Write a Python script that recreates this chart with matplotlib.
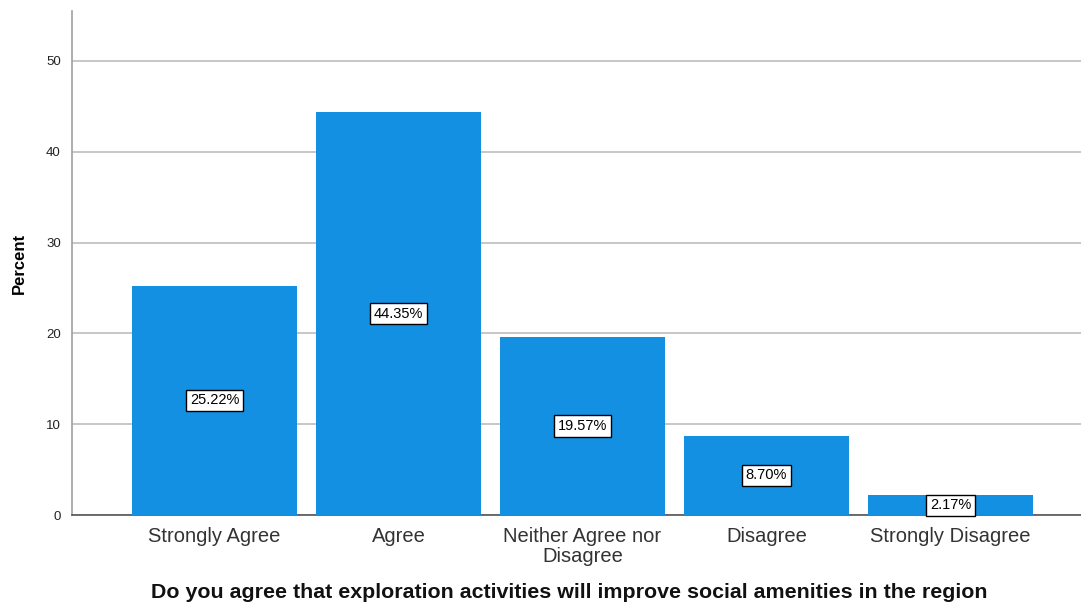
import matplotlib.pyplot as plt

categories = ["Strongly Agree", "Agree", "Neither Agree nor\nDisagree", "Disagree", "Strongly Disagree"]
percent = [25.22, 44.35, 19.57, 8.70, 2.17]
y_ticks = [0, 10, 20, 30, 40, 50]

plt.rcParams['font.family'] = ['Liberation Sans', 'DejaVu Sans']

fig = plt.figure(figsize=(10.81, 6.05), dpi=100)
ax = fig.add_axes([72 / 1081, 1 - 515 / 605, 1 - 72 / 1081, (515 - 11) / 605])

x = list(range(len(categories)))
bars = ax.bar(x, percent, width=0.897, color='#1490E3', zorder=3)

for xi, v in zip(x, percent):
    ax.text(xi, v / 2, f"{v:.2f}%", ha='center', va='center', fontsize=10.5,
            color='black', zorder=4,
            bbox=dict(boxstyle='square,pad=0.25', facecolor='white',
                      edgecolor='black', linewidth=1.0))

ax.set_xlim(-0.775, 4.71)
ax.set_ylim(0, 55.5)
ax.set_yticks(y_ticks)
ax.set_xticks(x)
ax.set_xticklabels(categories, fontsize=14.5, color='#333333', linespacing=1.05)
ax.tick_params(axis='x', length=0, pad=9)
ax.tick_params(axis='y', length=0, pad=8, labelsize=9.5, labelcolor='#222222')

ax.grid(axis='y', color='#bdbdbd', linewidth=1.2, zorder=0)
ax.set_axisbelow(True)
for s in ['top', 'right']:
    ax.spines[s].set_visible(False)
ax.spines['left'].set_color('#a0a0a0')
ax.spines['left'].set_linewidth(1.2)
ax.spines['bottom'].set_color('#555555')
ax.spines['bottom'].set_linewidth(1.2)

ax.set_ylabel("Percent", fontsize=12, fontweight='bold', labelpad=14)
fig.text(569 / 1081, 1 - 593 / 605,
         "Do you agree that exploration activities will improve social amenities in the region",
         ha='center', va='center', fontsize=15.4, fontweight='bold', color='#111111')

fig.savefig("out.png", dpi=100)
